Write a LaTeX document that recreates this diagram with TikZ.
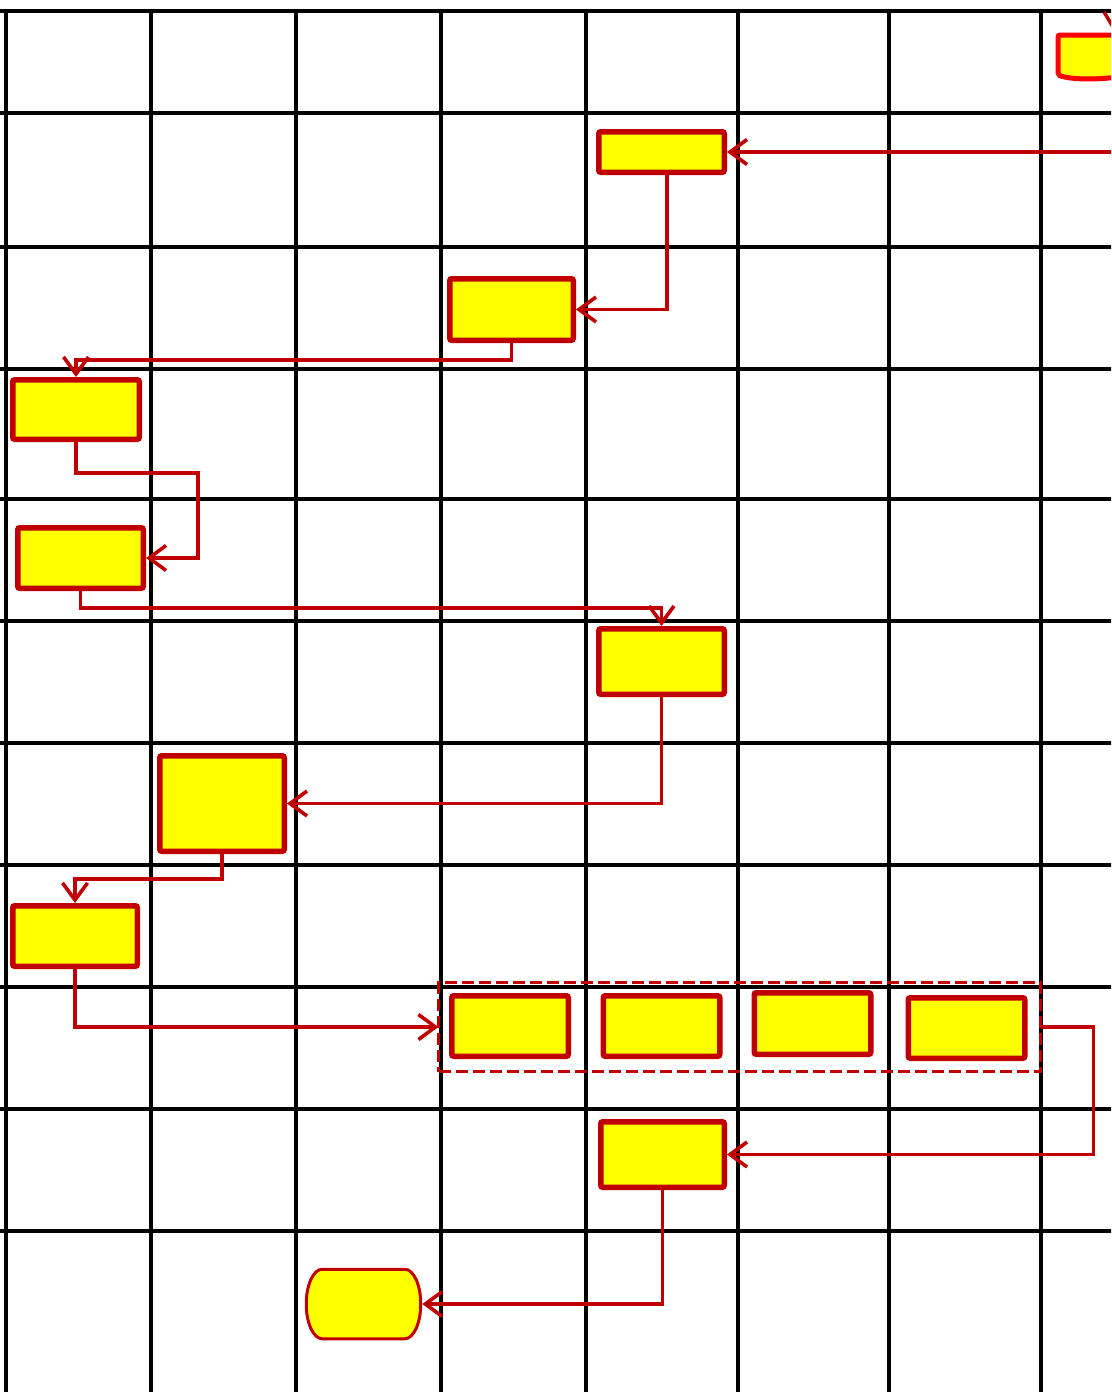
\documentclass[tikz,border=0pt]{standalone}
\usetikzlibrary{arrows.meta}
\definecolor{dred}{RGB}{192,0,0}
\definecolor{bred}{RGB}{255,0,0}
\definecolor{yel}{RGB}{255,255,0}
\begin{document}
\begin{tikzpicture}[x=1pt,y=-1pt,
  gridline/.style={line width=3.2pt,black},
  box/.style={draw=dred,fill=yel,line width=5.5pt,rounded corners=2pt,inner sep=0pt,outer sep=2.75pt,rectangle},
  conn/.style={draw=dred,line width=3.6pt,-{Straight Barb[length=17pt,width=25pt]}},
  grpbox/.style={draw=dred,line width=3.8pt,dash pattern=on 12pt off 5pt,inner sep=0pt,outer sep=0pt,rectangle},
  termline/.style={draw=dred,fill=yel,line width=3pt},
  hole/.style={inner sep=0pt,outer sep=0pt,rectangle}]
\useasboundingbox (0,0) rectangle (1111,1392);
\clip (0,0) rectangle (1111,1392);
\fill[white] (0,0) rectangle (1111,1392);
% grid
\foreach \gx in {6,151,296,441,586,738,889,1041}
  \draw[gridline] (\gx,10) -- (\gx,1400);
\foreach \gy in {11,113,247,369,499,621,743,865,987,1109,1231}
  \draw[gridline] (-5,\gy) -- (1120,\gy);
% start (cut off)
\node[hole] (start) at (1090,56) {};
\draw[draw=bred,fill=yel,line width=5pt,rounded corners=2pt] (1125,35) -- (1058,35) -- (1058,75) .. controls (1072,80) and (1100,80) .. (1125,76);
\draw[dred,line width=3.5pt] (1104,12) -- (1116,32);
\coordinate (s1) at (1125,152);
% nodes
\node[box,minimum width=125.5pt,minimum height=40.5pt] (A) at (661.5,152) {};
\node[box,minimum width=123.5pt,minimum height=61.5pt] (B) at (511.5,309.5) {};
\node[box,minimum width=126.5pt,minimum height=59.5pt] (C) at (76,409.5) {};
\node[box,minimum width=125.5pt,minimum height=60.5pt] (D) at (80.5,558) {};
\node[box,minimum width=125.5pt,minimum height=65.5pt] (E) at (661.5,661.5) {};
\node[box,minimum width=124.5pt,minimum height=95.5pt] (F) at (222,803.5) {};
\node[box,minimum width=124.5pt,minimum height=60.5pt] (G) at (75,936) {};
\node[grpbox,minimum width=602pt,minimum height=89pt] (grp) at (739.5,1027) {};
\node[box,minimum width=116.5pt,minimum height=60.5pt] (H1) at (510,1026) {};
\node[box,minimum width=116.5pt,minimum height=60.5pt] (H2) at (661.5,1026) {};
\node[box,minimum width=116.5pt,minimum height=61.5pt] (H3) at (812.5,1023.5) {};
\node[box,minimum width=116.5pt,minimum height=60.5pt] (H4) at (966.5,1028) {};
\node[box,minimum width=123.5pt,minimum height=65.5pt] (I) at (662.5,1154.5) {};
\node[hole,minimum width=114.5pt,minimum height=69.5pt] (end) at (363.5,1304) {};
\draw[termline] ([xshift=16pt]end.north west) -- ([xshift=-16pt]end.north east)
  arc[start angle=90,end angle=-90,x radius=16pt,y radius=34.75pt]
  -- ([xshift=16pt]end.south west)
  arc[start angle=270,end angle=90,x radius=16pt,y radius=34.75pt] -- cycle;
% connectors
\draw[conn] (s1) -- (A.east);
\draw[conn] ([xshift=5.5pt]A.south) |- (B.east);
\draw[conn] (B.south) -- ++(0,17) -| (C.north);
\draw[conn] (C.south) -- ++(0,31) -| ([xshift=52pt]D.east) -- (D.east);
\draw[conn] (D.south) -- ++(0,17) -| (E.north);
\draw[conn] (E.south) |- (F.east);
\draw[conn] (F.south) -- ++(0,25) -| (G.north);
\draw[conn] (G.south) |- (grp.west);
\draw[conn] (grp.east) -- ++(53,0) |- (I.east);
\draw[conn] (I.south) |- ([xshift=1.5pt]end.east);
\end{tikzpicture}
\end{document}
